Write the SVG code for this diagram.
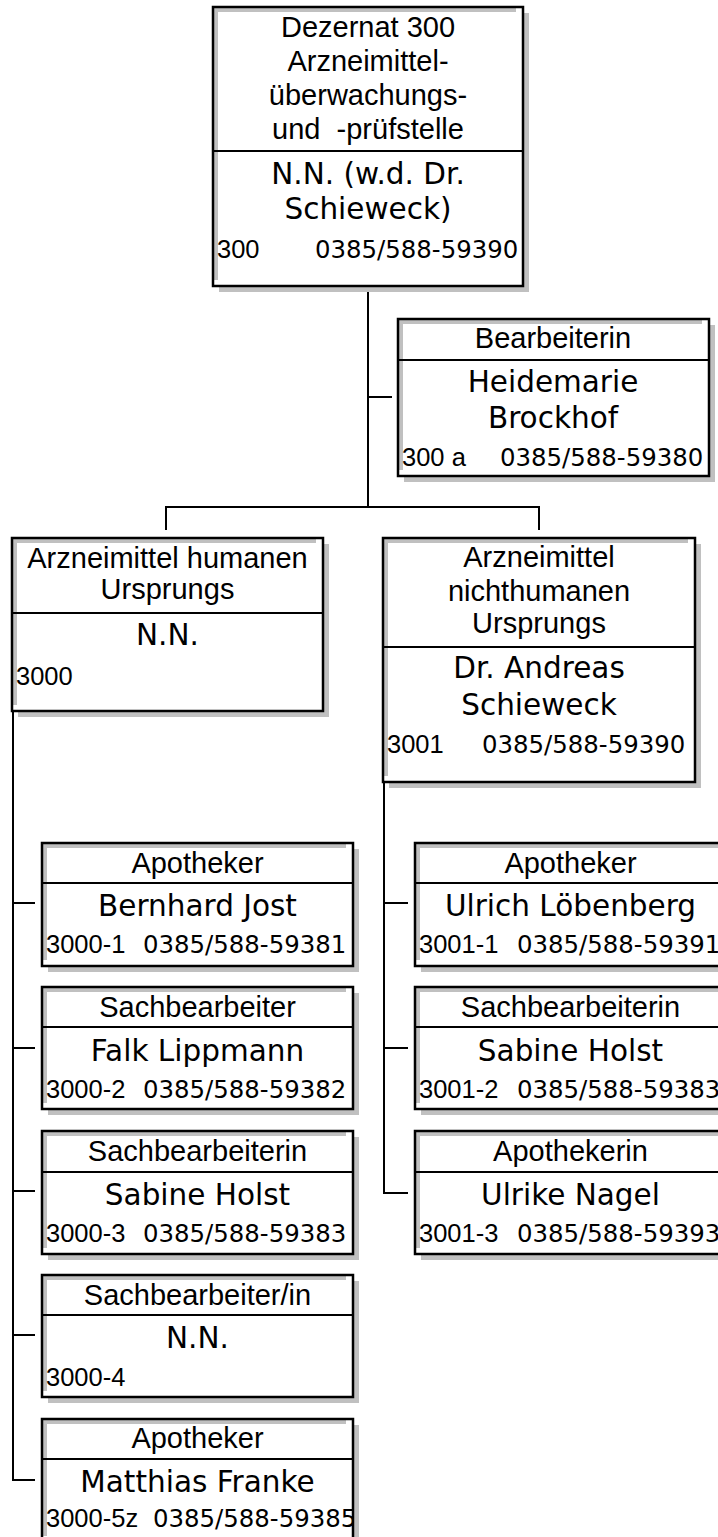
<svg xmlns="http://www.w3.org/2000/svg" width="718" height="1537" viewBox="0 0 718 1537">
<defs>
<style>
.sh{fill:#c0c0c0}
.ig{fill:#c0c0c0}
.wh{fill:#fff}
.ol{fill:none;stroke:#000;stroke-width:2.5}
.dv{stroke:#000;stroke-width:2}
.cn{fill:none;stroke:#000;stroke-width:2}
.t{font-family:"Liberation Sans",Arial,sans-serif;font-size:29px;text-anchor:middle;fill:#000}
.n{font-family:"DejaVu Sans",Verdana,sans-serif;font-size:29.5px;text-anchor:middle;fill:#000}
.c{font-family:"Liberation Sans",Arial,sans-serif;font-size:25.5px;fill:#000}
.p{font-family:"DejaVu Sans",Verdana,sans-serif;font-size:24.4px;fill:#000}
</style>
<clipPath id="clipB"><rect x="42" y="1419" width="310" height="130"/></clipPath>
</defs>

<g id="connectors">
<path class="cn" d="M368 286V507M166 530V507H539V530M368 397H392"/>
<path class="cn" d="M13 711V1480H35M13 903H35M13 1048H35M13 1191H35M13 1335H35"/>
<path class="cn" d="M384 782V1193H408M384 903H408M384 1048H408"/>
</g>

<g id="n300">
<rect class="sh" x="219" y="13" width="310" height="279"/>
<rect class="ig" x="213" y="7" width="303" height="273"/>
<rect class="wh" x="218" y="12" width="305" height="274"/>
<rect class="ol" x="213" y="7" width="310" height="279"/>
<line class="dv" x1="213" y1="151" x2="523" y2="151"/>
<text class="t" x="368" y="37">Dezernat 300</text>
<text class="t" x="368" y="71">Arzneimittel-</text>
<text class="t" x="368" y="105">überwachungs-</text>
<text class="t" x="368" y="139" style="white-space:pre">und  -prüfstelle</text>
<text class="n" x="368" y="184">N.N. (w.d. Dr.</text>
<text class="n" x="368" y="219">Schieweck)</text>
<text class="c" x="217" y="258">300</text>
<text class="p" x="315" y="258">0385/588-59390</text>
</g>

<g id="n300a">
<rect class="sh" x="404" y="325" width="311" height="157"/>
<rect class="ig" x="398" y="319" width="304" height="151"/>
<rect class="wh" x="403" y="324" width="306" height="152"/>
<rect class="ol" x="398" y="319" width="311" height="157"/>
<line class="dv" x1="398" y1="360" x2="709" y2="360"/>
<text class="t" x="553" y="348">Bearbeiterin</text>
<text class="n" x="553" y="392">Heidemarie</text>
<text class="n" x="553" y="428">Brockhof</text>
<text class="c" x="402" y="466">300 a</text>
<text class="p" x="500" y="466">0385/588-59380</text>
</g>

<g id="n3000">
<rect class="sh" x="18" y="544" width="311" height="173"/>
<rect class="ig" x="12" y="538" width="304" height="167"/>
<rect class="wh" x="17" y="543" width="306" height="168"/>
<rect class="ol" x="12" y="538" width="311" height="173"/>
<line class="dv" x1="12" y1="613" x2="323" y2="613"/>
<text class="t" x="167.5" y="568">Arzneimittel humanen</text>
<text class="t" x="167.5" y="599">Ursprungs</text>
<text class="n" x="167.5" y="645">N.N.</text>
<text class="c" x="16" y="685">3000</text>
</g>

<g id="n3001">
<rect class="sh" x="389" y="544" width="312" height="244"/>
<rect class="ig" x="383" y="538" width="305" height="238"/>
<rect class="wh" x="388" y="543" width="307" height="239"/>
<rect class="ol" x="383" y="538" width="312" height="244"/>
<line class="dv" x1="383" y1="647" x2="695" y2="647"/>
<text class="t" x="539" y="567">Arzneimittel</text>
<text class="t" x="539" y="601">nichthumanen</text>
<text class="t" x="539" y="633">Ursprungs</text>
<text class="n" x="539" y="678">Dr. Andreas</text>
<text class="n" x="539" y="715">Schieweck</text>
<text class="c" x="387" y="753">3001</text>
<text class="p" x="482" y="753">0385/588-59390</text>
</g>

<g id="n3000-1">
<rect class="sh" x="48" y="849" width="311" height="123"/>
<rect class="ig" x="42" y="843" width="304" height="117"/>
<rect class="wh" x="47" y="848" width="306" height="118"/>
<rect class="ol" x="42" y="843" width="311" height="123"/>
<line class="dv" x1="42" y1="883" x2="353" y2="883"/>
<text class="t" x="197.5" y="873">Apotheker</text>
<text class="n" x="197.5" y="916">Bernhard Jost</text>
<text class="c" x="46" y="953">3000-1</text>
<text class="p" x="143" y="953">0385/588-59381</text>
</g>

<g id="n3000-2">
<rect class="sh" x="48" y="993" width="311" height="122"/>
<rect class="ig" x="42" y="987" width="304" height="116"/>
<rect class="wh" x="47" y="992" width="306" height="117"/>
<rect class="ol" x="42" y="987" width="311" height="122"/>
<line class="dv" x1="42" y1="1027" x2="353" y2="1027"/>
<text class="t" x="197.5" y="1017">Sachbearbeiter</text>
<text class="n" x="197.5" y="1061">Falk Lippmann</text>
<text class="c" x="46" y="1098">3000-2</text>
<text class="p" x="143" y="1098">0385/588-59382</text>
</g>

<g id="n3000-3">
<rect class="sh" x="48" y="1137" width="311" height="123"/>
<rect class="ig" x="42" y="1131" width="304" height="117"/>
<rect class="wh" x="47" y="1136" width="306" height="118"/>
<rect class="ol" x="42" y="1131" width="311" height="123"/>
<line class="dv" x1="42" y1="1172" x2="353" y2="1172"/>
<text class="t" x="197.5" y="1161">Sachbearbeiterin</text>
<text class="n" x="197.5" y="1205">Sabine Holst</text>
<text class="c" x="46" y="1242">3000-3</text>
<text class="p" x="143" y="1242">0385/588-59383</text>
</g>

<g id="n3000-4">
<rect class="sh" x="48" y="1281" width="311" height="122"/>
<rect class="ig" x="42" y="1275" width="304" height="116"/>
<rect class="wh" x="47" y="1280" width="306" height="117"/>
<rect class="ol" x="42" y="1275" width="311" height="122"/>
<line class="dv" x1="42" y1="1315" x2="353" y2="1315"/>
<text class="t" x="197.5" y="1305">Sachbearbeiter/in</text>
<text class="n" x="197.5" y="1348">N.N.</text>
<text class="c" x="46" y="1386">3000-4</text>
</g>

<g id="n3000-5z">
<rect class="sh" x="48" y="1425" width="311" height="123"/>
<rect class="ig" x="42" y="1419" width="304" height="117"/>
<rect class="wh" x="47" y="1424" width="306" height="118"/>
<rect class="ol" x="42" y="1419" width="311" height="123"/>
<line class="dv" x1="42" y1="1459" x2="353" y2="1459"/>
<text class="t" x="197.5" y="1448">Apotheker</text>
<text class="n" x="197.5" y="1492">Matthias Franke</text>
<g clip-path="url(#clipB)">
<text class="c" x="46" y="1527">3000-5z</text>
<text class="p" x="153" y="1527">0385/588-59385</text>
</g>
</g>

<g id="n3001-1">
<rect class="sh" x="421" y="849" width="311" height="123"/>
<rect class="ig" x="415" y="843" width="304" height="117"/>
<rect class="wh" x="420" y="848" width="306" height="118"/>
<rect class="ol" x="415" y="843" width="311" height="123"/>
<line class="dv" x1="415" y1="883" x2="726" y2="883"/>
<text class="t" x="570.5" y="873">Apotheker</text>
<text class="n" x="570.5" y="916">Ulrich Löbenberg</text>
<text class="c" x="419" y="953">3001-1</text>
<text class="p" x="517" y="953">0385/588-59391</text>
</g>

<g id="n3001-2">
<rect class="sh" x="421" y="993" width="311" height="122"/>
<rect class="ig" x="415" y="987" width="304" height="116"/>
<rect class="wh" x="420" y="992" width="306" height="117"/>
<rect class="ol" x="415" y="987" width="311" height="122"/>
<line class="dv" x1="415" y1="1027" x2="726" y2="1027"/>
<text class="t" x="570.5" y="1017">Sachbearbeiterin</text>
<text class="n" x="570.5" y="1061">Sabine Holst</text>
<text class="c" x="419" y="1098">3001-2</text>
<text class="p" x="517" y="1098">0385/588-59383</text>
</g>

<g id="n3001-3">
<rect class="sh" x="421" y="1137" width="311" height="123"/>
<rect class="ig" x="415" y="1131" width="304" height="117"/>
<rect class="wh" x="420" y="1136" width="306" height="118"/>
<rect class="ol" x="415" y="1131" width="311" height="123"/>
<line class="dv" x1="415" y1="1172" x2="726" y2="1172"/>
<text class="t" x="570.5" y="1161">Apothekerin</text>
<text class="n" x="570.5" y="1205">Ulrike Nagel</text>
<text class="c" x="419" y="1242">3001-3</text>
<text class="p" x="517" y="1242">0385/588-59393</text>
</g>
</svg>
